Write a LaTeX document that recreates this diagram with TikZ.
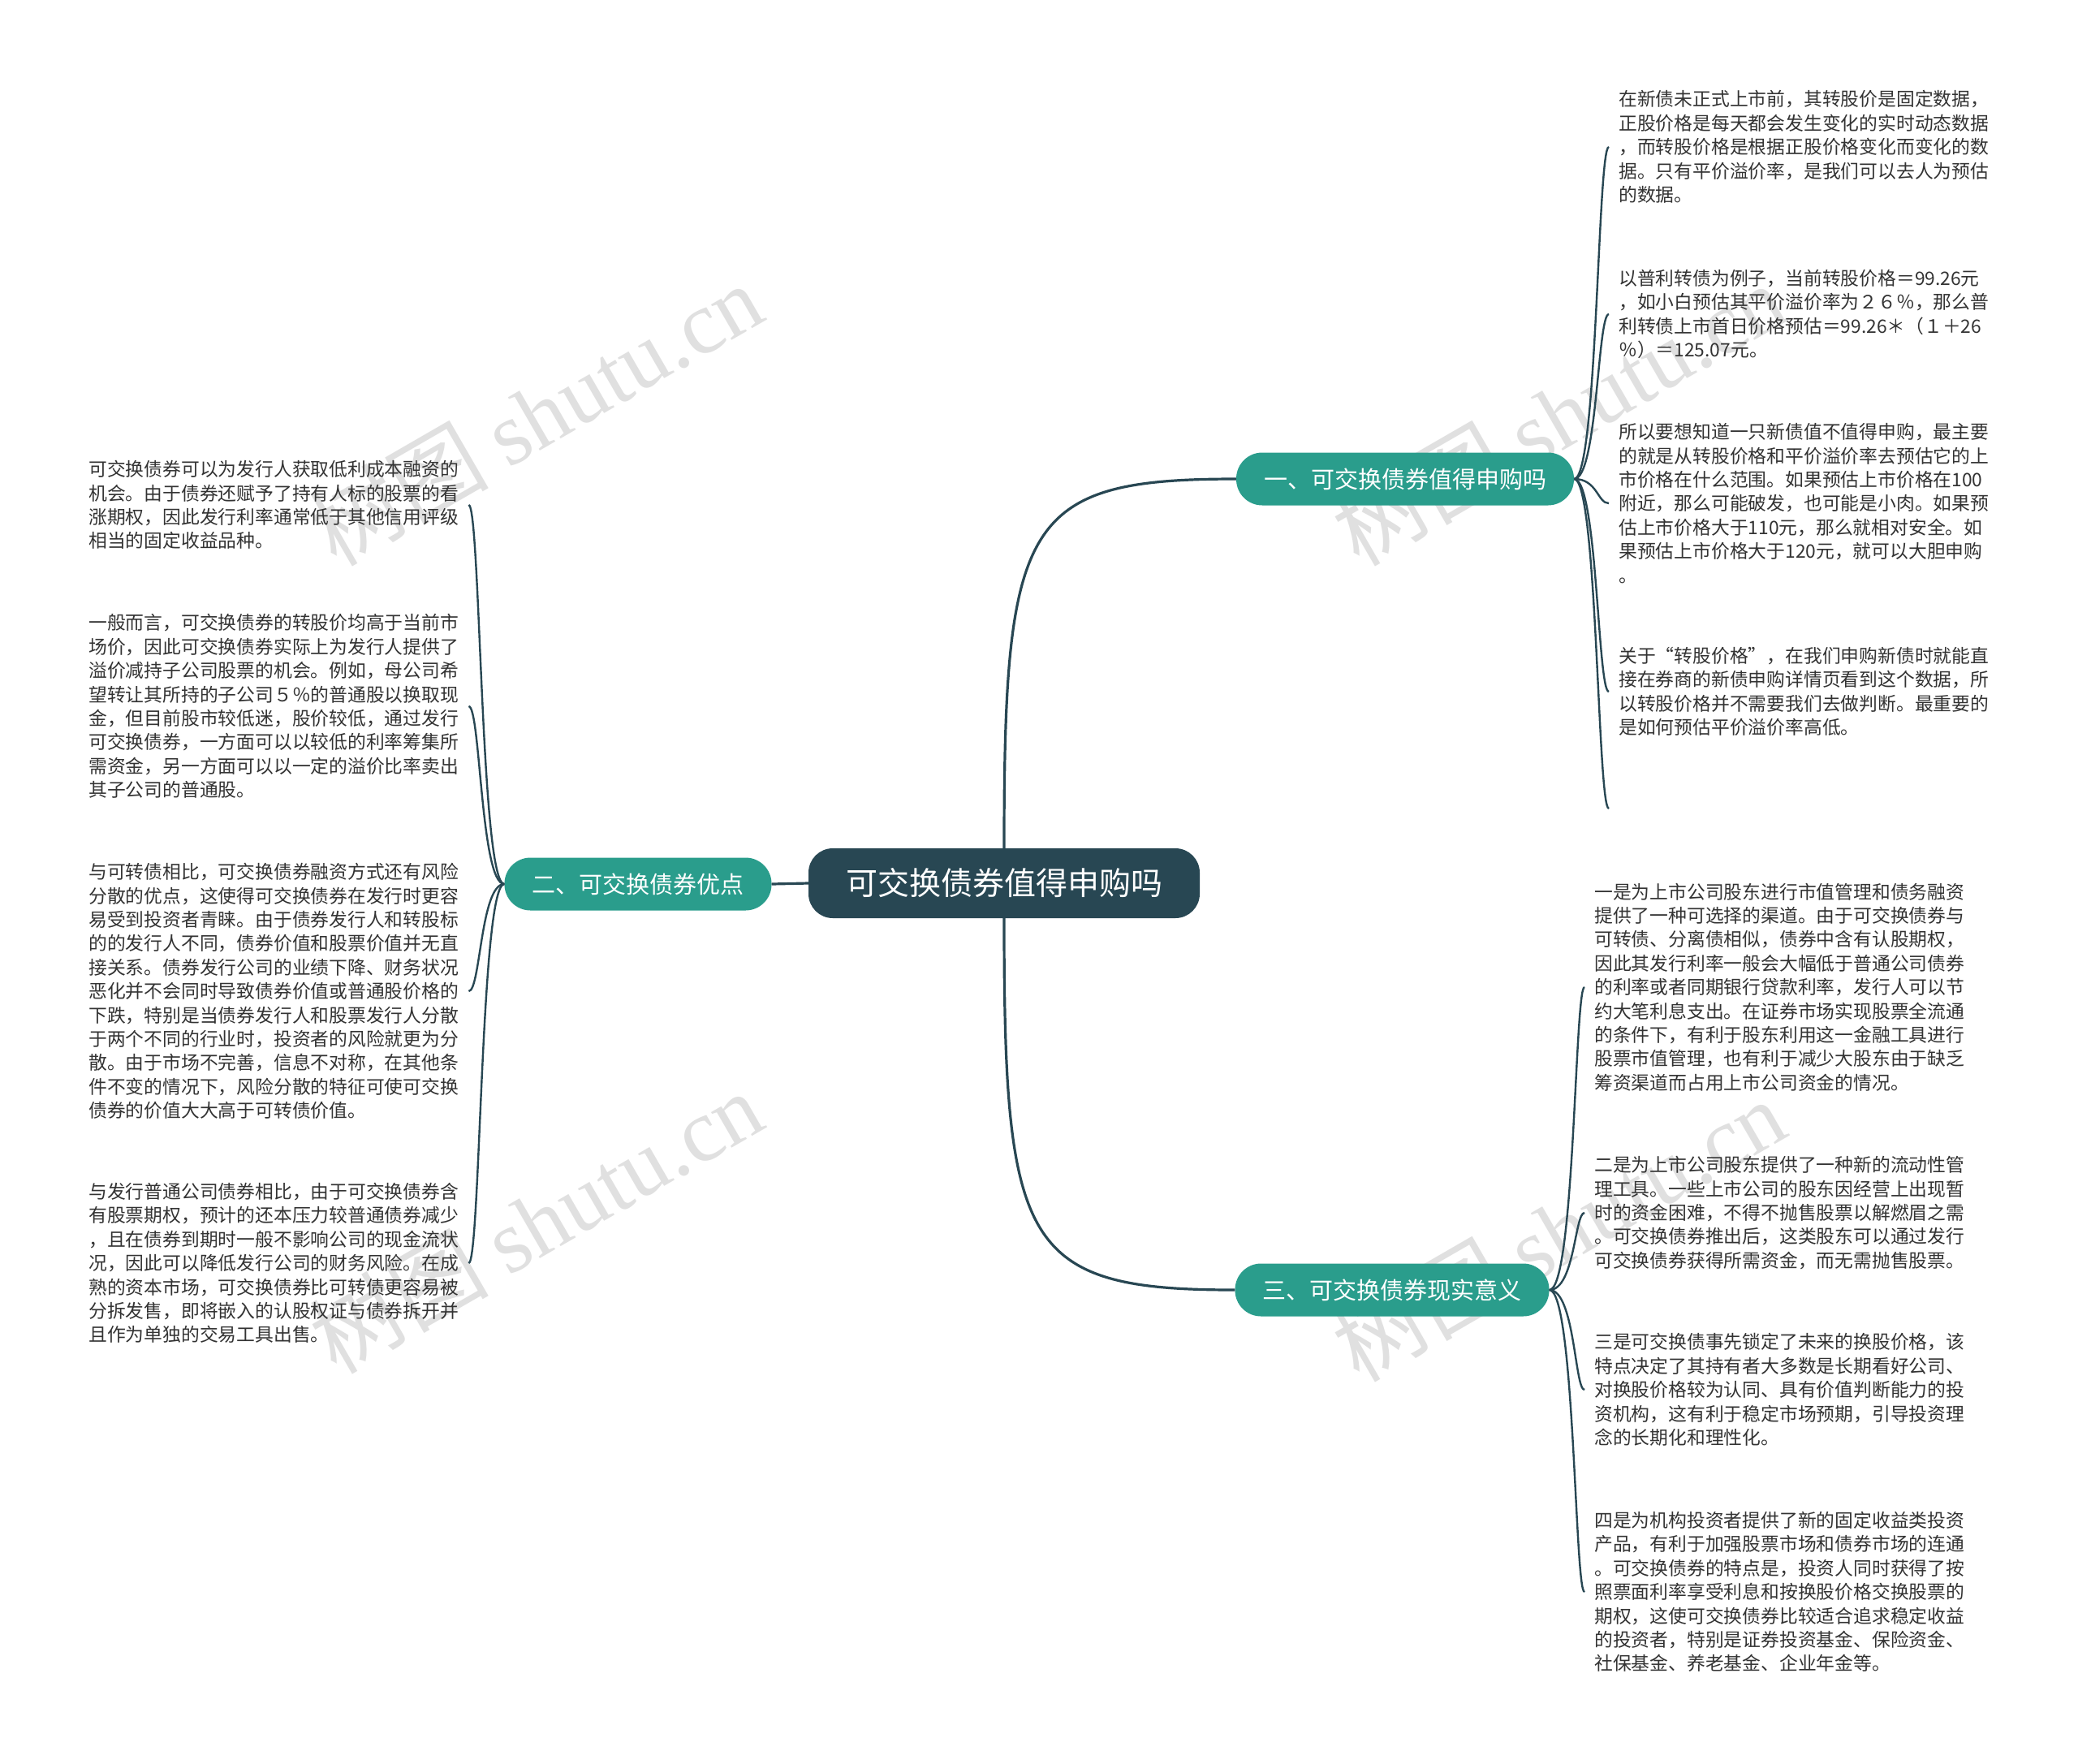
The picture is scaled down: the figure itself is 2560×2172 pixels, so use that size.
\documentclass[tikz,border=0pt]{standalone}
\usepackage{fontspec}
\setmainfont{Noto Sans CJK SC}
\newfontfamily\wmlatin{Liberation Serif}
\definecolor{hubfill}{HTML}{284753}
\definecolor{branchfill}{HTML}{2A9D8C}
\definecolor{linkcol}{HTML}{284753}
\definecolor{leaftext}{HTML}{333333}

\begin{document}
\begin{tikzpicture}[
    x=1pt, y=-1pt,
    hub/.style={fill=hubfill, text=white, rounded corners=30pt, minimum height=86pt, inner xsep=46pt, font=\fontsize{39}{46}\selectfont},
    branch/.style={fill=branchfill, text=white, rounded corners=32pt, minimum height=65pt, inner xsep=34pt, font=\fontsize{29}{34}\selectfont},
    leaf/.style={anchor=west, text width=456pt, align=left, inner xsep=12pt, inner ysep=0pt, text=leaftext, font=\fontsize{22.8}{29.4}\selectfont},
    link/.style={draw=linkcol, line width=3.2pt},
    twig/.style={draw=linkcol, line width=2.4pt},
    wmark/.style={rotate=30, text=black!12, font=\fontsize{110}{120}\selectfont}
]
\fill[white, use as bounding box] (0,0) rectangle (2560,2172);

% watermarks
\node[wmark] (wm1) at (660,510) {树图 {\wmlatin shutu.cn}};
\node[wmark] (wm2) at (1920,510) {树图 {\wmlatin shutu.cn}};
\node[wmark] (wm3) at (660,1505) {树图 {\wmlatin shutu.cn}};
\node[wmark] (wm4) at (1920,1515) {树图 {\wmlatin shutu.cn}};

% centre and branches
\node[hub] (hub) at (1237,1088) {可交换债券值得申购吗};
\node[branch] (b1) at (1731,590) {一、可交换债券值得申购吗};
\node[branch] (b2) at (786,1089) {二、可交换债券优点};
\node[branch] (b3) at (1715,1589) {三、可交换债券现实意义};

\draw[link] (hub.north) .. controls +(0,-405) and +(-262,0) .. (b1.west);
\draw[link] (hub.south) .. controls +(0,405) and +(-262,0) .. (b3.west);
\draw[link] (hub.west) -- (b2.east);

% leaves of branch 1
\node[leaf] (r11) at (1982,181) {在新债未正式上市前，其转股价是固定数据，\\正股价格是每天都会发生变化的实时动态数据\\，而转股价格是根据正股价格变化而变化的数\\据。只有平价溢价率，是我们可以去人为预估\\的数据。};
\node[leaf] (r12) at (1982,387) {以普利转债为例子，当前转股价格＝99.26元\\，如小白预估其平价溢价率为２６％，那么普\\利转债上市首日价格预估＝99.26＊（１＋26\\％）＝125.07元。};
\node[leaf] (r13) at (1982,620) {所以要想知道一只新债值不值得申购，最主要\\的就是从转股价格和平价溢价率去预估它的上\\市价格在什么范围。如果预估上市价格在100\\附近，那么可能破发，也可能是小肉。如果预\\估上市价格大于110元，那么就相对安全。如\\果预估上市价格大于120元，就可以大胆申购\\。};
\node[leaf] (r14) at (1982,852) {关于“转股价格”，在我们申购新债时就能直\\接在券商的新债申购详情页看到这个数据，所\\以转股价格并不需要我们去做判断。最重要的\\是如何预估平价溢价率高低。};
\coordinate (r1e) at (1982,996);

% leaves of branch 2
\node[leaf] (l1) at (97,622) {可交换债券可以为发行人获取低利成本融资的\\机会。由于债券还赋予了持有人标的股票的看\\涨期权，因此发行利率通常低于其他信用评级\\相当的固定收益品种。};
\node[leaf] (l2) at (97,870) {一般而言，可交换债券的转股价均高于当前市\\场价，因此可交换债券实际上为发行人提供了\\溢价减持子公司股票的机会。例如，母公司希\\望转让其所持的子公司５％的普通股以换取现\\金，但目前股市较低迷，股价较低，通过发行\\可交换债券，一方面可以以较低的利率筹集所\\需资金，另一方面可以以一定的溢价比率卖出\\其子公司的普通股。};
\node[leaf] (l3) at (97,1221) {与可转债相比，可交换债券融资方式还有风险\\分散的优点，这使得可交换债券在发行时更容\\易受到投资者青睐。由于债券发行人和转股标\\的的发行人不同，债券价值和股票价值并无直\\接关系。债券发行公司的业绩下降、财务状况\\恶化并不会同时导致债券价值或普通股价格的\\下跌，特别是当债券发行人和股票发行人分散\\于两个不同的行业时，投资者的风险就更为分\\散。由于市场不完善，信息不对称，在其他条\\件不变的情况下，风险分散的特征可使可交换\\债券的价值大大高于可转债价值。};
\node[leaf] (l4) at (97,1556) {与发行普通公司债券相比，由于可交换债券含\\有股票期权，预计的还本压力较普通债券减少\\，且在债券到期时一般不影响公司的现金流状\\况，因此可以降低发行公司的财务风险。在成\\熟的资本市场，可交换债券比可转债更容易被\\分拆发售，即将嵌入的认股权证与债券拆开并\\且作为单独的交易工具出售。};

% leaves of branch 3
\node[leaf] (r31) at (1952,1216) {一是为上市公司股东进行市值管理和债务融资\\提供了一种可选择的渠道。由于可交换债券与\\可转债、分离债相似，债券中含有认股期权，\\因此其发行利率一般会大幅低于普通公司债券\\的利率或者同期银行贷款利率，发行人可以节\\约大笔利息支出。在证券市场实现股票全流通\\的条件下，有利于股东利用这一金融工具进行\\股票市值管理，也有利于减少大股东由于缺乏\\筹资渠道而占用上市公司资金的情况。};
\node[leaf] (r32) at (1952,1494) {二是为上市公司股东提供了一种新的流动性管\\理工具。一些上市公司的股东因经营上出现暂\\时的资金困难，不得不抛售股票以解燃眉之需\\。可交换债券推出后，这类股东可以通过发行\\可交换债券获得所需资金，而无需抛售股票。};
\node[leaf] (r33) at (1952,1712) {三是可交换债事先锁定了未来的换股价格，该\\特点决定了其持有者大多数是长期看好公司、\\对换股价格较为认同、具有价值判断能力的投\\资机构，这有利于稳定市场预期，引导投资理\\念的长期化和理性化。};
\node[leaf] (r34) at (1952,1961) {四是为机构投资者提供了新的固定收益类投资\\产品，有利于加强股票市场和债券市场的连通\\。可交换债券的特点是，投资人同时获得了按\\照票面利率享受利息和按换股价格交换股票的\\期权，这使可交换债券比较适合追求稳定收益\\的投资者，特别是证券投资基金、保险资金、\\社保基金、养老基金、企业年金等。};

% brackets
\coordinate (rail1) at (1968,0);
\coordinate (rail2) at (592,0);
\coordinate (rail3) at (1940,0);
\foreach \n in {r11,r12,r13,r14}
    \draw[twig] (b1.east) .. controls (b1.east -| rail1) and (\n.west -| rail1) .. (\n.west);
\draw[twig] (b1.east) .. controls (b1.east -| rail1) and (r1e -| rail1) .. (r1e);
\foreach \n in {l1,l2,l3,l4}
    \draw[twig] (b2.west) .. controls (b2.west -| rail2) and (\n.east -| rail2) .. (\n.east);
\foreach \n in {r31,r32,r33,r34}
    \draw[twig] (b3.east) .. controls (b3.east -| rail3) and (\n.west -| rail3) .. (\n.west);
\end{tikzpicture}
\end{document}
